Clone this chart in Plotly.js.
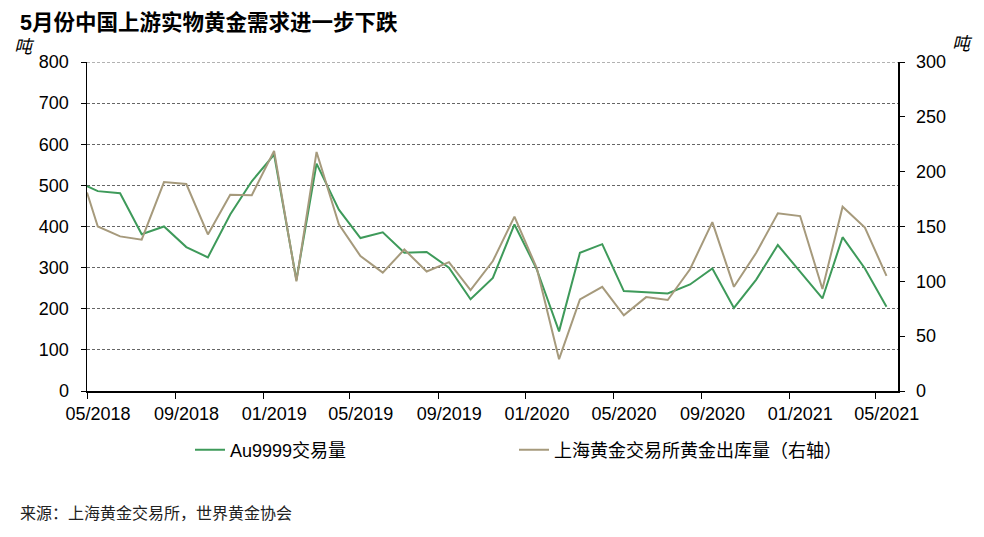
<!DOCTYPE html>
<html>
<head>
<meta charset="utf-8">
<script src="https://cdn.plot.ly/plotly-3.0.1.min.js"></script>
<style>html,body{margin:0;padding:0;background:#fff;}#chart{width:984px;height:537px;}</style>
</head>
<body>
<div id="chart"></div>
<script>
// Dates of observations (first point on the 05/2018 tick, then one per month)
const dates = [
  '2018-05-01','2018-05-16','2018-06-16','2018-07-16','2018-08-16','2018-09-16','2018-10-16','2018-11-16','2018-12-16',
  '2019-01-16','2019-02-16','2019-03-16','2019-04-16','2019-05-16','2019-06-16','2019-07-16','2019-08-16','2019-09-16','2019-10-16','2019-11-16','2019-12-16',
  '2020-01-16','2020-02-16','2020-03-16','2020-04-16','2020-05-16','2020-06-16','2020-07-16','2020-08-16','2020-09-16','2020-10-16','2020-11-16','2020-12-16',
  '2021-01-16','2021-02-16','2021-03-16','2021-04-16','2021-05-16'
];
// Au9999 trading volume (tonnes, left axis)
const au9999 = [
  498, 486, 481, 381, 400, 350, 325, 429, 510,
  575, 270, 553, 441, 372, 386, 336, 338, 300, 223, 275, 405,
  296, 145, 336, 357, 243, 240, 237, 259, 298, 202, 271, 355,
  290, 225, 374, 298, 205
];
// SGE gold withdrawals (tonnes, right axis)
const sgeWithdrawal = [
  181, 150, 141, 138, 190.5, 188.7, 142.8, 179, 178.6,
  219, 100, 218, 152, 123, 108, 129, 109, 117.5, 92, 118.5, 159,
  112, 29, 83.5, 95, 69, 85.6, 83, 111, 154, 95, 126, 162,
  159.5, 93, 168, 149, 105
];
const seriesNames = ['Au9999交易量', '上海黄金交易所黄金出库量（右轴）'];
const titleText = '5月份中国上游实物黄金需求进一步下跌';
const unitText = '吨';
const sourceText = '来源：上海黄金交易所，世界黄金协会';
const leftRange = [0, 800];
const rightRange = [0, 300];

const FONT = 'Liberation Sans, Arial, Noto Sans CJK SC, sans-serif';
const CJK = 'Liberation Sans, Noto Sans CJK SC, sans-serif';

const traces = [
  {x: dates, y: au9999, name: seriesNames[0], type: 'scatter', mode: 'lines',
   line: {color: '#3E9A5A', width: 2}, yaxis: 'y', legend: 'legend', hoverinfo: 'skip'},
  {x: dates, y: sgeWithdrawal, name: seriesNames[1], type: 'scatter', mode: 'lines',
   line: {color: '#A69A7C', width: 2}, yaxis: 'y2', legend: 'legend2', hoverinfo: 'skip'}
];

const layout = {
  width: 984, height: 537,
  margin: {l: 87, r: 86, t: 62, b: 146},
  paper_bgcolor: '#fff', plot_bgcolor: '#fff',
  font: {family: FONT, color: '#000', size: 17},
  title: {text: titleText, x: 20/984, xref: 'container', xanchor: 'left',
          y: 1 - 22/537, yref: 'container', yanchor: 'middle',
          font: {family: CJK, size: 21.5, weight: 'bold', color: '#000'}},
  xaxis: {type: 'date', range: ['2018-05-01', '2021-06-01'],
          tick0: '2018-05-01', dtick: 'M4', tickformat: '%m/%Y',
          showgrid: false, zeroline: false, showline: true, linecolor: '#000', linewidth: 1.5,
          ticks: 'outside', ticklen: 6, tickcolor: '#000', ticklabelshift: 11,
          tickfont: {size: 18, family: FONT}},
  yaxis: {range: leftRange, dtick: 100, showgrid: true, gridcolor: '#666', griddash: '3px,2px', gridwidth: 1,
          zeroline: false, showline: true, linecolor: '#000', linewidth: 1.5,
          ticks: 'outside', ticklen: 5, tickcolor: '#000', ticklabelstandoff: 8,
          tickfont: {size: 18, family: FONT}},
  yaxis2: {range: rightRange, dtick: 50, overlaying: 'y', side: 'right', showgrid: false,
           zeroline: false, showline: true, linecolor: '#000', linewidth: 1.5,
           ticks: 'outside', ticklen: 5, tickcolor: '#000', ticklabelstandoff: 8,
           tickfont: {size: 18, family: FONT}},
  showlegend: true,
  legend: {orientation: 'h', xref: 'container', yref: 'container', x: 190/984, y: 1 - 450/537,
           xanchor: 'left', yanchor: 'middle', bgcolor: 'rgba(0,0,0,0)',
           font: {family: CJK, size: 18, color: '#000'}, itemwidth: 30},
  legend2: {orientation: 'h', xref: 'container', yref: 'container', x: 514/984, y: 1 - 450/537,
            xanchor: 'left', yanchor: 'middle', bgcolor: 'rgba(0,0,0,0)',
            font: {family: CJK, size: 18, color: '#000'}, itemwidth: 30},
  shapes: [
    {type: 'line', xref: 'paper', yref: 'y', x0: 0, x1: 1, y0: leftRange[1], y1: leftRange[1],
     line: {color: '#666', width: 1, dash: '3px,2px'}, layer: 'below'}
  ],
  annotations: [
    {text: unitText, xref: 'paper', yref: 'paper', x: (12 - 87)/811, y: 1 + 15/329,
     xanchor: 'left', yanchor: 'middle', showarrow: false,
     font: {family: CJK, size: 18, style: 'italic', color: '#000'}},
    {text: unitText, xref: 'paper', yref: 'paper', x: 1 + 52/811, y: 1 + 18/329,
     xanchor: 'left', yanchor: 'middle', showarrow: false,
     font: {family: CJK, size: 18, style: 'italic', color: '#000'}},
    {text: sourceText, xref: 'paper', yref: 'paper', x: (18 - 87)/811, y: -(513 - 391)/329,
     xanchor: 'left', yanchor: 'middle', showarrow: false,
     font: {family: CJK, size: 16, color: '#222'}}
  ]
};

Plotly.newPlot('chart', traces, layout, {staticPlot: true, displayModeBar: false});
</script>
</body>
</html>
